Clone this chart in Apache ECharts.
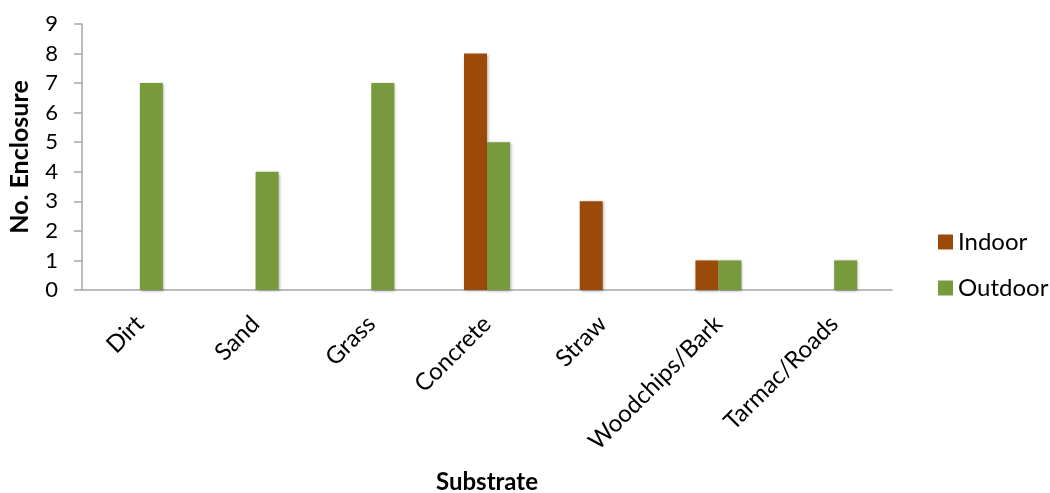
<!DOCTYPE html>
<html>
<head>
<meta charset="utf-8">
<script src="https://cdn.jsdelivr.net/npm/echarts@6/dist/echarts.min.js"></script>
<style>
  html, body { margin: 0; padding: 0; background: #fff; overflow: hidden; }
  #chart { width: 1050px; height: 493px; }
</style>
</head>
<body>
<div id="chart"></div>
<script>
// Enclosure counts per substrate type
const categories = ['Dirt', 'Sand', 'Grass', 'Concrete', 'Straw', 'Woodchips/Bark', 'Tarmac/Roads'];
const indoor  = [0, 0, 0, 8, 3, 1, 0];
const outdoor = [7, 4, 7, 5, 0, 1, 1];
const yTicks  = [0, 1, 2, 3, 4, 5, 6, 7, 8, 9];

const FONT = 'Lato, "Open Sans", sans-serif';
const axisGray = '#a6a6a6';
const barShadow = {
  shadowColor: 'rgba(0,0,0,0.35)',
  shadowBlur: 3,
  shadowOffsetX: 1,
  shadowOffsetY: 1
};

const chart = echarts.init(document.getElementById('chart'), null, { renderer: 'canvas' });
chart.setOption({
  animation: false,
  textStyle: { fontFamily: FONT, color: '#000' },
  grid: { left: 82, right: 158, top: 24, bottom: 203, containLabel: false, outerBoundsMode: 'none' },
  legend: {
    orient: 'vertical',
    left: 933,
    top: 225,
    itemWidth: 15,
    itemHeight: 15,
    itemGap: 22,
    icon: 'rect',
    textStyle: { fontFamily: FONT, fontSize: 24, color: '#000' },
    data: ['Indoor', 'Outdoor']
  },
  xAxis: {
    type: 'category',
    data: categories,
    name: 'Substrate',
    nameLocation: 'middle',
    nameGap: 180,
    nameTextStyle: { fontFamily: FONT, fontSize: 24, fontWeight: 'bold', color: '#000' },
    axisLine: { lineStyle: { color: axisGray, width: 1.5 } },
    axisTick: { show: false },
    axisLabel: { rotate: 45, margin: 30, fontSize: 24, color: '#000', fontFamily: FONT, interval: 0 }
  },
  yAxis: {
    type: 'value',
    min: yTicks[0],
    max: yTicks[yTicks.length - 1],
    interval: 1,
    name: 'No. Enclosure',
    nameLocation: 'middle',
    nameGap: 50,
    nameRotate: 90,
    nameTextStyle: { fontFamily: FONT, fontSize: 25, fontWeight: 'bold', color: '#000' },
    axisLine: { show: true, lineStyle: { color: axisGray, width: 1.5 } },
    axisTick: { show: true, length: 8, lineStyle: { color: axisGray, width: 1.5 } },
    splitLine: { show: false },
    axisLabel: { margin: 24, fontSize: 22, color: '#000', fontFamily: FONT }
  },
  series: [
    {
      name: 'Indoor',
      type: 'bar',
      data: indoor,
      barWidth: 23,
      barGap: '0%',
      itemStyle: Object.assign({ color: '#9c4a0a' }, barShadow)
    },
    {
      name: 'Outdoor',
      type: 'bar',
      data: outdoor,
      barWidth: 23,
      barGap: '0%',
      itemStyle: Object.assign({ color: '#779a3c' }, barShadow)
    }
  ]
});
</script>
</body>
</html>
